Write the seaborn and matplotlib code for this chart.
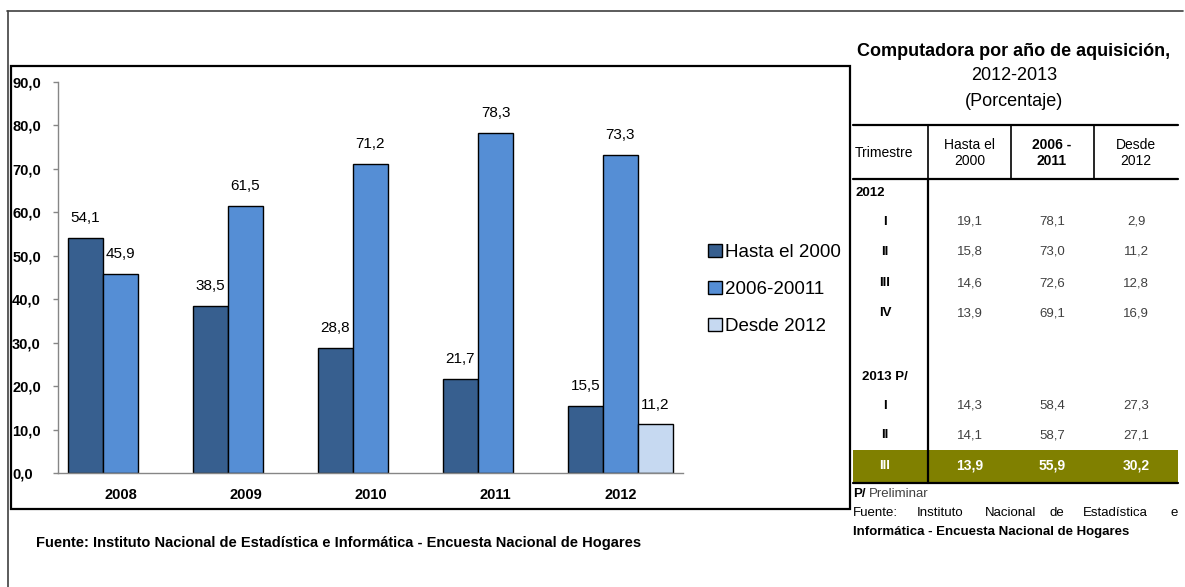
import matplotlib
matplotlib.use("Agg")
import matplotlib.pyplot as plt
import seaborn as sns
import pandas as pd
from matplotlib.lines import Line2D
from matplotlib.patches import Rectangle
from matplotlib import font_manager

# ---------------- data ----------------
years = ["2008", "2009", "2010", "2011", "2012"]
series_names = ["Hasta el 2000", "2006-20011", "Desde 2012"]
hasta_2000 = [54.1, 38.5, 28.8, 21.7, 15.5]
s2006_2011 = [45.9, 61.5, 71.2, 78.3, 73.3]
desde_2012_years = ["2012"]
desde_2012 = [11.2]
yticks = [0, 10, 20, 30, 40, 50, 60, 70, 80, 90]

table_title = ["Computadora por año de aquisición,", "2012-2013", "(Porcentaje)"]
table_headers = ["Trimestre", "Hasta el\n2000", "2006 -\n2011", "Desde\n2012"]
table_groups = ["2012", "2013 P/"]
quarters_2012 = ["I", "II", "III", "IV"]
t2012_hasta = [19.1, 15.8, 14.6, 13.9]
t2012_mid = [78.1, 73.0, 72.6, 69.1]
t2012_desde = [2.9, 11.2, 12.8, 16.9]
quarters_2013 = ["I", "II", "III"]
t2013_hasta = [14.3, 14.1, 13.9]
t2013_mid = [58.4, 58.7, 55.9]
t2013_desde = [27.3, 27.1, 30.2]

source_text = "Fuente: Instituto Nacional de Estadística e Informática - Encuesta Nacional de Hogares"

colors = ["#375f8f", "#558ed5", "#c6d9f1"]
highlight = "#808000"

# ---------------- fonts ----------------
names = {f.name for f in font_manager.fontManager.ttflist}
narrow = "Liberation Sans Narrow" if "Liberation Sans Narrow" in names else "Liberation Sans"

sns.set_theme(style="white")
plt.rcParams["font.family"] = [narrow, "DejaVu Sans"]
plt.rcParams["text.color"] = "black"
plt.rcParams["xtick.color"] = "black"
plt.rcParams["ytick.color"] = "black"
plt.rcParams["xtick.labelcolor"] = "black"
plt.rcParams["ytick.labelcolor"] = "black"

W, H = 1185, 587
fig = plt.figure(figsize=(W / 100, H / 100), dpi=100)

# overlay axes in pixel coordinates for frames and table
ov = fig.add_axes([0, 0, 1, 1])
ov.set_xlim(0, W)
ov.set_ylim(H, 0)
ov.axis("off")

# ---------------- bar chart ----------------
rows = []
for y, v in zip(years, hasta_2000):
    rows.append((y, series_names[0], v))
for y, v in zip(years, s2006_2011):
    rows.append((y, series_names[1], v))
for y, v in zip(desde_2012_years, desde_2012):
    rows.append((y, series_names[2], v))
df = pd.DataFrame(rows, columns=["year", "serie", "value"])

px_l, px_r, px_t, px_b = 58, 683, 82, 473
ax = fig.add_axes([px_l / W, 1 - px_b / H, (px_r - px_l) / W, (px_b - px_t) / H])
sns.barplot(data=df, x="year", y="value", hue="serie", order=years,
            hue_order=series_names, palette=colors, width=0.84,
            edgecolor="black", linewidth=1.0, saturation=1, ax=ax)
ax.set_xlim(-0.5, len(years) - 0.5)
ax.set_ylim(0, 90)
ax.set_yticks(yticks)
ax.set_yticklabels([f"{t:.1f}".replace(".", ",") for t in yticks],
                   fontsize=10.5, fontweight="bold")
ax.set_xlabel("")
ax.set_ylabel("")
ax.set_xticks(range(len(years)))
ax.set_xticklabels(years, fontsize=10.5, fontweight="bold")
ax.set_xticks([i + 0.5 for i in range(-1, len(years))], minor=True)
ax.tick_params(axis="x", which="major", length=0, pad=11)
ax.tick_params(axis="x", which="minor", length=5, color="#868686", width=1, direction="out")
ax.tick_params(axis="y", which="major", length=3.5, color="#868686", width=1,
               direction="out", pad=29.5, left=True)
for lab in ax.get_yticklabels():
    lab.set_horizontalalignment("left")
for s in ["top", "right"]:
    ax.spines[s].set_visible(False)
for s in ["left", "bottom"]:
    ax.spines[s].set_color("#868686")
    ax.spines[s].set_linewidth(1)
ax.set_facecolor("none")
ax.grid(False)

for cont in ax.containers:
    labs = []
    for bar in cont:
        h = bar.get_height()
        labs.append(f"{h:.1f}".replace(".", ",") if h == h else "")
    ax.bar_label(cont, labels=labs, padding=9, fontsize=11, color="black")

leg = ax.get_legend()
if leg is not None:
    leg.remove()
handles = [Rectangle((0, 0), 1, 1, facecolor=c, edgecolor="black", linewidth=1) for c in colors]
fig.legend(handles, series_names, loc="upper left",
           bbox_to_anchor=(700 / W, 1 - 236 / H), frameon=False,
           fontsize=13.5, handlelength=0.75, handleheight=0.75,
           handletextpad=0.2, labelspacing=1.05, borderaxespad=0,
           labelcolor="black")

# ---------------- frames ----------------
ov.add_line(Line2D([7, 1183], [11, 11], color="#404040", lw=1.2))
ov.add_line(Line2D([8, 8], [11, 587], color="#404040", lw=1.2))
ov.add_patch(Rectangle((11, 66), 839, 443, fill=False, edgecolor="black", lw=1.6))

ov.text(36, 543, source_text, fontsize=10.5, fontweight="bold", va="center", ha="left")

# ---------------- table ----------------
tx0, tx1 = 853, 1178
c1, c2, c3 = 928, 1011, 1094
ov.text(1014, 52, table_title[0], fontsize=13, fontweight="bold", ha="center", va="center")
ov.text(1014, 76, table_title[1], fontsize=13, ha="center", va="center")
ov.text(1014, 101, table_title[2], fontsize=13, ha="center", va="center")

ov.add_patch(Rectangle((tx0, 450), tx1 - tx0, 32, facecolor=highlight, edgecolor="none"))
lw = 1.6
ov.add_line(Line2D([tx0, tx1], [125, 125], color="black", lw=lw))
ov.add_line(Line2D([tx0, tx1], [179, 179], color="black", lw=lw))
ov.add_line(Line2D([tx0, tx1], [483, 483], color="black", lw=lw))
for cx in (c1, c2, c3):
    ov.add_line(Line2D([cx, cx], [125, 179], color="black", lw=1.2))
ov.add_line(Line2D([c1, c1], [179, 483], color="black", lw=lw))

ov.text(855, 153, table_headers[0], fontsize=10, ha="left", va="center")
ov.text(970, 153, table_headers[1], fontsize=10, ha="center", va="center", linespacing=1.25)
ov.text(1052, 153, table_headers[2], fontsize=10, ha="center", va="center",
        linespacing=1.25, fontweight="bold")
ov.text(1136, 153, table_headers[3], fontsize=10, ha="center", va="center", linespacing=1.25)

colx = [885, 970, 1052, 1136]
fmt = lambda v: f"{v:.1f}".replace(".", ",")

ov.text(855, 193, table_groups[0], fontsize=9.5, fontweight="bold", ha="left", va="center")
ys2012 = [222, 252, 283, 313]
for q, a, b, c, yy in zip(quarters_2012, t2012_hasta, t2012_mid, t2012_desde, ys2012):
    ov.text(colx[0], yy, q, fontsize=9.5, fontweight="bold", ha="center", va="center")
    for xx, v in zip(colx[1:], (a, b, c)):
        ov.text(xx, yy, fmt(v), fontsize=9.5, color="#404040", ha="center", va="center")

ov.text(885, 377, table_groups[1], fontsize=9.5, fontweight="bold", ha="center", va="center")
ys2013 = [406, 435, 466]
for i, (q, a, b, c, yy) in enumerate(zip(quarters_2013, t2013_hasta, t2013_mid, t2013_desde, ys2013)):
    last = i == len(quarters_2013) - 1
    col = "white" if last else "#404040"
    ov.text(colx[0], yy, q, fontsize=9.5, fontweight="bold",
            color="white" if last else "black", ha="center", va="center")
    for xx, v in zip(colx[1:], (a, b, c)):
        ov.text(xx, yy, fmt(v), fontsize=10 if last else 9.5, color=col,
                fontweight="bold" if last else "normal", ha="center", va="center")

ov.text(853, 494, "P/", fontsize=9.5, fontweight="bold", ha="left", va="center")
ov.text(869, 494, "Preliminar", fontsize=9.5, color="#404040", ha="left", va="center")
fuente_words = ["Fuente:", "Instituto", "Nacional", "de", "Estadística", "e"]
fuente_x = [853, 917, 985, 1050, 1083, 1178]
for wd, xx in zip(fuente_words, fuente_x):
    ov.text(xx, 513, wd, fontsize=9.5, ha="right" if wd == "e" else "left", va="center")
ov.text(853, 532, "Informática - Encuesta Nacional de Hogares", fontsize=9.5,
        fontweight="bold", ha="left", va="center")

fig.savefig("out.png", dpi=100)
